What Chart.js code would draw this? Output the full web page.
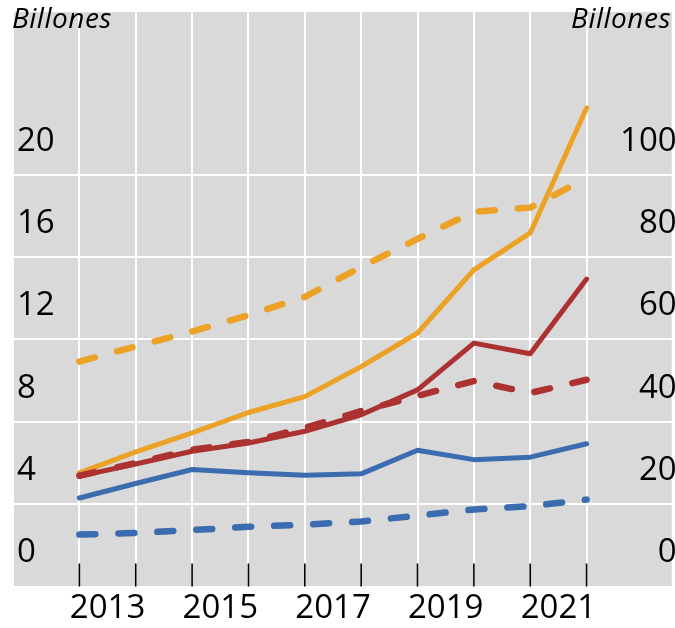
<!DOCTYPE html>
<html>
<head>
<meta charset="utf-8">
<script src="https://cdn.jsdelivr.net/npm/chart.js@4/dist/chart.umd.min.js"></script>
<style>
  html, body { margin: 0; padding: 0; background: #fff; }
  #wrap { width: 675px; height: 628px; }
</style>
</head>
<body>
<div id="wrap"><canvas id="chart" width="675" height="628"></canvas></div>
<script>
// year of each observation; points sit at the end of the year
const years = ['2012', '2013', '2014', '2015', '2016', '2017', '2018', '2019', '2020', '2021'];
const x_labels = ['2013', '2015', '2017', '2019', '2021'];
const left_ticks = [0, 4, 8, 12, 16, 20];
const right_ticks = [0, 20, 40, 60, 80, 100];

// left axis (solid lines), billions
const yellow_solid = [5.52, 6.54, 7.46, 8.45, 9.22, 10.68, 12.31, 15.38, 17.17, 23.24];
const red_solid = [5.36, 5.95, 6.57, 6.97, 7.54, 8.34, 9.55, 11.82, 11.30, 14.93];
const blue_solid = [4.30, 5.00, 5.68, 5.52, 5.40, 5.47, 6.62, 6.16, 6.28, 6.93];
// right axis (dashed lines), billions
const yellow_dashed = [54.6, 58.3, 61.9, 65.9, 70.3, 77.6, 84.4, 91.0, 92.0, 99.2];
const red_dashed = [26.9, 30.0, 33.2, 35.1, 38.5, 42.6, 46.3, 49.9, 47.0, 50.2];
const blue_dashed = [12.6, 13.0, 13.7, 14.5, 15.0, 15.8, 17.2, 18.7, 19.5, 21.1];

const YELLOW = '#eba227';
const RED = '#ab3230';
const BLUE = '#3a6caf';
const FONT = '"Open Sans", "Noto Sans", sans-serif';

function pts(vals) { return vals.map((v, i) => ({ x: Number(years[i]) + 1, y: v })); }

function line(vals, color, axis, dashed) {
  return {
    data: pts(vals), yAxisID: axis,
    borderColor: color, backgroundColor: color,
    borderWidth: dashed ? 6.5 : 5,
    borderDash: dashed ? [16, 23] : [],
    borderCapStyle: 'round', borderJoinStyle: 'round',
    pointRadius: 0, tension: 0, fill: false
  };
}

// y axes take no room: labels are drawn inside the plot
function flat_y(s) { s.width = 0; s.paddingTop = 0; s.paddingBottom = 0; }

const bg_plugin = {
  id: 'plotBg',
  beforeDraw(chart) {
    const { ctx, chartArea: a } = chart;
    ctx.save();
    ctx.fillStyle = '#d9d9d9';
    ctx.fillRect(a.left, a.top, a.right - a.left, a.bottom - a.top);
    ctx.restore();
  },
  beforeDatasetsDraw(chart) {
    // short black year ticks rising from the bottom edge
    const { ctx, chartArea: a, scales: { x } } = chart;
    ctx.save();
    ctx.strokeStyle = '#000';
    ctx.lineWidth = 1.6;
    x.ticks.forEach(t => {
      const px = x.getPixelForValue(t.value);
      ctx.beginPath();
      ctx.moveTo(px, a.bottom - 23);
      ctx.lineTo(px, a.bottom);
      ctx.stroke();
    });
    ctx.restore();
  },
  afterDraw(chart) {
    const { ctx } = chart;
    ctx.save();
    ctx.fillStyle = '#000';
    ctx.font = 'italic 28px ' + FONT;
    ctx.letterSpacing = '0.5px';
    ctx.textBaseline = 'alphabetic';
    ctx.textAlign = 'left';
    ctx.fillText('Billones', 12, 28);
    ctx.textAlign = 'right';
    ctx.fillText('Billones', 671, 28);
    ctx.restore();
  }
};

new Chart(document.getElementById('chart'), {
  type: 'line',
  data: {
    datasets: [
      line(yellow_dashed, YELLOW, 'y1', true),
      line(blue_dashed, BLUE, 'y1', true),
      line(red_dashed, RED, 'y1', true),
      line(yellow_solid, YELLOW, 'y', false),
      line(red_solid, RED, 'y', false),
      line(blue_solid, BLUE, 'y', false)
    ]
  },
  options: {
    responsive: false,
    animation: false,
    layout: { padding: { left: 14, right: 3.3, top: 12, bottom: 0 } },
    plugins: { legend: { display: false }, tooltip: { enabled: false } },
    scales: {
      x: {
        type: 'linear', min: 2011.84, max: 2023.51,
        afterBuildTicks: s => { s.ticks = years.map(y => ({ value: Number(y) + 1 })); },
        afterFit: s => { s.height = 41.5; s.paddingLeft = 0; s.paddingRight = 0; },
        grid: { color: '#ffffff', lineWidth: 2, drawTicks: false },
        border: { display: false },
        ticks: {
          autoSkip: false, maxRotation: 0, padding: 2, labelOffset: 28.2,
          color: '#000', font: { family: FONT, size: 33 },
          callback: v => x_labels.includes(String(v)) ? String(v) : ''
        }
      },
      y: {
        position: 'left', min: 0, max: 27.9,
        afterBuildTicks: s => { s.ticks = left_ticks.map(v => ({ value: v })); },
        afterFit: flat_y,
        grid: { color: '#ffffff', lineWidth: 2, drawTicks: false },
        border: { display: false },
        ticks: {
          mirror: true, padding: 3, labelOffset: -33.5,
          color: '#000', font: { family: FONT, size: 33 }
        }
      },
      y1: {
        position: 'right', min: 0, max: 139.5,
        afterBuildTicks: s => { s.ticks = right_ticks.map(v => ({ value: v })); },
        afterFit: flat_y,
        grid: { display: false, drawTicks: false },
        border: { display: false },
        ticks: {
          mirror: true, padding: 5, labelOffset: -33.5,
          color: '#000', font: { family: FONT, size: 33 }
        }
      }
    }
  },
  plugins: [bg_plugin]
});
</script>
</body>
</html>
